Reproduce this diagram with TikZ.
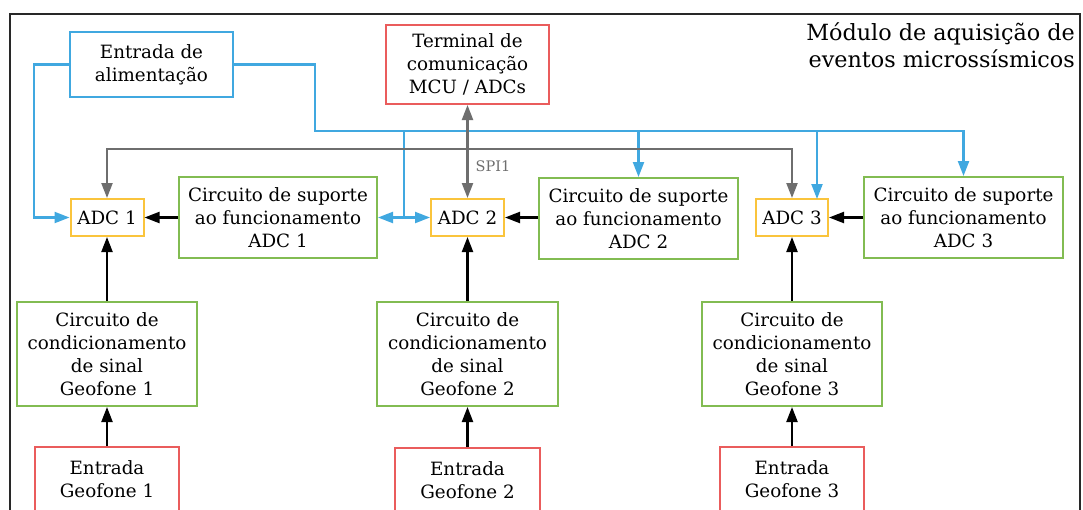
\documentclass[tikz,border=0pt]{standalone}
\usepackage{fontspec}
\setmainfont{DejaVu Serif}
\usetikzlibrary{arrows.meta,calc}
\definecolor{cblue}{RGB}{64,168,224}
\definecolor{cred}{RGB}{234,92,92}
\definecolor{cgreen}{RGB}{130,188,82}
\definecolor{cyellow}{RGB}{250,196,60}
\definecolor{cgray}{RGB}{110,110,110}
\definecolor{cframe}{RGB}{40,40,40}
\tikzset{
  box/.style={draw, line width=2pt, align=center, inner sep=0pt,
    font=\fontsize{18.3}{23}\selectfont},
  bluebox/.style={box, draw=cblue},
  redbox/.style={box, draw=cred},
  greenbox/.style={box, draw=cgreen},
  adcbox/.style={box, draw=cyellow},
  tip/.tip={Triangle[length=15pt,width=11pt]},
  conn/.style={line width=2.2pt, -tip},
  blk/.style={conn, draw=black},
  blu/.style={conn, draw=cblue},
  gry/.style={conn, draw=cgray},
  both/.style={tip-tip},
}
\begin{document}
\begin{tikzpicture}[x=1pt,y=-1pt]
\useasboundingbox (0,0) rectangle (1083,509);
\clip (0,0) rectangle (1083,509);
\fill[white] (0,0) rectangle (1083,509);
\draw[cframe, line width=2pt] (10,14) rectangle (1080,540);

\node[anchor=north east, align=right, inner sep=0pt,
  font=\fontsize{22.3}{27.5}\selectfont] (title) at (1075,22)
  {Módulo de aquisição de\\eventos microssísmicos};

\node[bluebox, minimum width=163pt, minimum height=65pt] (alim) at (151.5,64.5) {Entrada de\\alimentação};
\node[redbox, minimum width=163pt, minimum height=79pt] (term) at (467.5,64.5) {Terminal de\\comunicação\\MCU / ADCs};

\node[adcbox, minimum width=73pt, minimum height=37pt] (adc1) at (107,217.5) {ADC 1};
\node[adcbox, minimum width=73pt, minimum height=37pt] (adc2) at (467.5,217.5) {ADC 2};
\node[adcbox, minimum width=72pt, minimum height=37pt] (adc3) at (792,217.5) {ADC 3};

\node[greenbox, minimum width=198pt, minimum height=81pt] (sup1) at (278,217.5) {Circuito de suporte\\ao funcionamento\\ADC 1};
\node[greenbox, minimum width=199pt, minimum height=81pt] (sup2) at (638.5,218.5) {Circuito de suporte\\ao funcionamento\\ADC 2};
\node[greenbox, minimum width=199pt, minimum height=81pt] (sup3) at (963.5,217.5) {Circuito de suporte\\ao funcionamento\\ADC 3};

\node[greenbox, minimum width=180pt, minimum height=104pt] (cond1) at (107,354) {Circuito de\\condicionamento\\de sinal\\Geofone 1};
\node[greenbox, minimum width=181pt, minimum height=104pt] (cond2) at (467.5,354) {Circuito de\\condicionamento\\de sinal\\Geofone 2};
\node[greenbox, minimum width=180pt, minimum height=104pt] (cond3) at (792,354) {Circuito de\\condicionamento\\de sinal\\Geofone 3};

\node[redbox, minimum width=144pt, minimum height=65pt] (geo1) at (107,479.5) {Entrada\\Geofone 1};
\node[redbox, minimum width=145pt, minimum height=65pt] (geo2) at (467.5,480.5) {Entrada\\Geofone 2};
\node[redbox, minimum width=144pt, minimum height=65pt] (geo3) at (792,479.5) {Entrada\\Geofone 3};

% black signal arrows
\draw[blk] (sup1.west) -- (adc1.east);
\draw[blk] (adc2.east -| sup2.west) -- (adc2.east);
\draw[blk] (sup3.west) -- (adc3.east);
\draw[blk] (cond1.north) -- (adc1.south);
\draw[blk] (cond2.north) -- (adc2.south);
\draw[blk] (cond3.north) -- (adc3.south);
\draw[blk] (geo1.north) -- (cond1.south);
\draw[blk] (geo2.north) -- (cond2.south);
\draw[blk] (geo3.north) -- (cond3.south);

% power (blue)
\coordinate (pL) at (34,64.5);
\coordinate (pR) at (315,131);
\coordinate (pB) at (404,131);
\coordinate (p2) at (638.5,131);
\coordinate (p3) at (817,131);
\coordinate (a3) at (817,199);
\draw[blu] (alim.west) -- (pL) |- (adc1.west);
\draw[blu] (alim.east) -| (pR) -| (sup3.north);
\draw[blu] (pB) |- (adc2.west);
\draw[blu] (pB) |- (sup1.east);
\draw[blu] (p2) -- (sup2.north);
\draw[blu] (p3) -- (a3);

% SPI (gray)
\coordinate (sL) at (107,149);
\coordinate (sR) at (792,149);
\draw[gry, both] (adc1.north) -- (sL) -- (sR) -- (adc3.north);
\draw[gry, both] (term.south) -- (adc2.north)
  node[pos=0.66, anchor=west, xshift=7pt, inner sep=0pt, text=cgray, font=\fontsize{14.5}{16}\selectfont] (spi) {SPI1};
\end{tikzpicture}
\end{document}
